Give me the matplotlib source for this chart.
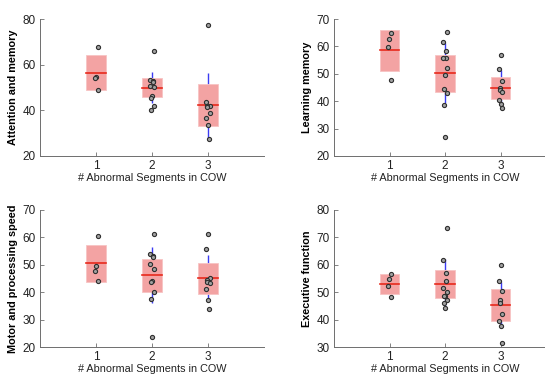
import numpy as np
import matplotlib
matplotlib.use('Agg')
from matplotlib import pyplot as plt
from matplotlib.patches import Rectangle

plt.rcParams['font.family'] = ['Liberation Sans', 'DejaVu Sans']

groups = [1, 2, 3]
xlabel = "# Abnormal Segments in COW"

# Attention and memory
att_pts = [
    [67.6, 54.5, 54.0, 49.1],
    [66.2, 53.4, 53.0, 52.4, 50.7, 50.1, 46.1, 45.6, 42.0, 40.1],
    [77.2, 43.6, 42.0, 41.7, 41.4, 39.0, 36.5, 33.5, 27.5],
]
att_mean = [56.4, 49.9, 42.2]
att_box = [(48.7, 64.2), (45.8, 54.1), (33.2, 51.5)]
att_sd = [(50.0, 62.0), (43.0, 56.7), (28.0, 56.3)]

# Learning memory
lrn_pts = [
    [64.8, 62.7, 59.6, 47.7],
    [65.2, 61.7, 58.5, 55.6, 55.6, 52.1, 49.5, 44.5, 42.9, 38.5, 27.1],
    [56.7, 51.7, 47.2, 44.8, 44.1, 43.5, 40.4, 39.0, 37.4],
]
lrn_mean = [58.7, 50.2, 44.9]
lrn_box = [(51.2, 66.1), (43.5, 56.7), (40.9, 48.8)]
lrn_sd = [(52.0, 65.0), (39.5, 61.2), (38.3, 51.5)]

# Motor and processing speed
mot_pts = [
    [60.6, 49.6, 47.9, 44.0],
    [61.1, 54.1, 53.2, 52.8, 50.4, 48.5, 44.1, 43.8, 40.1, 37.4, 23.5],
    [61.1, 55.6, 45.2, 44.6, 43.8, 43.5, 41.1, 37.1, 34.0],
]
mot_mean = [50.5, 46.2, 45.1]
mot_box = [(43.7, 57.4), (40.1, 52.2), (39.5, 50.5)]
mot_sd = [(44.5, 56.5), (36.2, 56.5), (36.7, 53.5)]

# Executive function
exe_pts = [
    [56.5, 54.8, 52.4, 48.4],
    [73.5, 61.7, 57.1, 54.0, 51.7, 50.1, 48.5, 48.5, 47.3, 45.9, 44.4],
    [60.0, 54.0, 50.4, 47.3, 46.2, 41.9, 39.5, 37.6, 31.3],
]
exe_mean = [53.0, 53.0, 45.4]
exe_box = [(49.5, 56.5), (48.0, 58.2), (39.5, 51.1)]
exe_sd = [(50.0, 56.0), (44.5, 62.1), (37.1, 53.7)]

panels = [
    ("Attention and memory", att_pts, att_mean, att_box, att_sd, (20, 80), [20, 40, 60, 80]),
    ("Learning memory", lrn_pts, lrn_mean, lrn_box, lrn_sd, (20, 70), [20, 30, 40, 50, 60, 70]),
    ("Motor and processing speed", mot_pts, mot_mean, mot_box, mot_sd, (20, 70), [20, 30, 40, 50, 60, 70]),
    ("Executive function", exe_pts, exe_mean, exe_box, exe_sd, (30, 80), [30, 40, 50, 60, 70, 80]),
]

W, H = 545, 375
rects = [(40, 19, 224), (334, 19, 222), (40, 210, 224), (334, 210, 222)]
ax_h = 137

fig = plt.figure(figsize=(W / 100, H / 100), dpi=100)

for (label, pts, means, boxes, sds, ylim, yticks), (l, t, w) in zip(panels, rects):
    ax = fig.add_axes([l / W, (H - t - ax_h) / H, w / W, ax_h / H])
    for i, g in enumerate(groups):
        ax.plot([g, g], sds[i], color='#3b3bf2', lw=1.0, zorder=1, solid_capstyle='butt')
        lo, hi = boxes[i]
        ax.add_patch(Rectangle((g - 0.18, lo), 0.36, hi - lo, facecolor='#f3a3a3',
                               edgecolor='#f7c4c4', lw=0.6, zorder=2))
        ax.plot([g - 0.18, g + 0.18], [means[i]] * 2, color='#e8291c', lw=1.2, zorder=3)
        n = len(pts[i])
        jit = 0.035 * np.sin(np.arange(n) * 2.3 + g)
        ax.scatter(g + jit, pts[i], s=9, facecolor='#a0a0a0', edgecolor='#303030',
                   linewidths=0.8, zorder=4)
    ax.set_xlim(0, 4)
    ax.set_ylim(*ylim)
    ax.set_xticks(groups)
    ax.set_yticks(yticks)
    for s in ['top', 'right']:
        ax.spines[s].set_visible(False)
    for s in ['left', 'bottom']:
        ax.spines[s].set_color('#6e6e6e')
        ax.spines[s].set_linewidth(0.7)
    ax.tick_params(direction='in', length=3, width=0.6, color='#6e6e6e',
                   labelsize=8.5, labelcolor='#222222', pad=3)
    ax.set_ylabel(label, fontsize=7.8, fontweight='bold', labelpad=3)
    ax.set_xlabel(xlabel, fontsize=7.8, labelpad=0.5, color='#222222')

fig.savefig('out.png', dpi=100)
